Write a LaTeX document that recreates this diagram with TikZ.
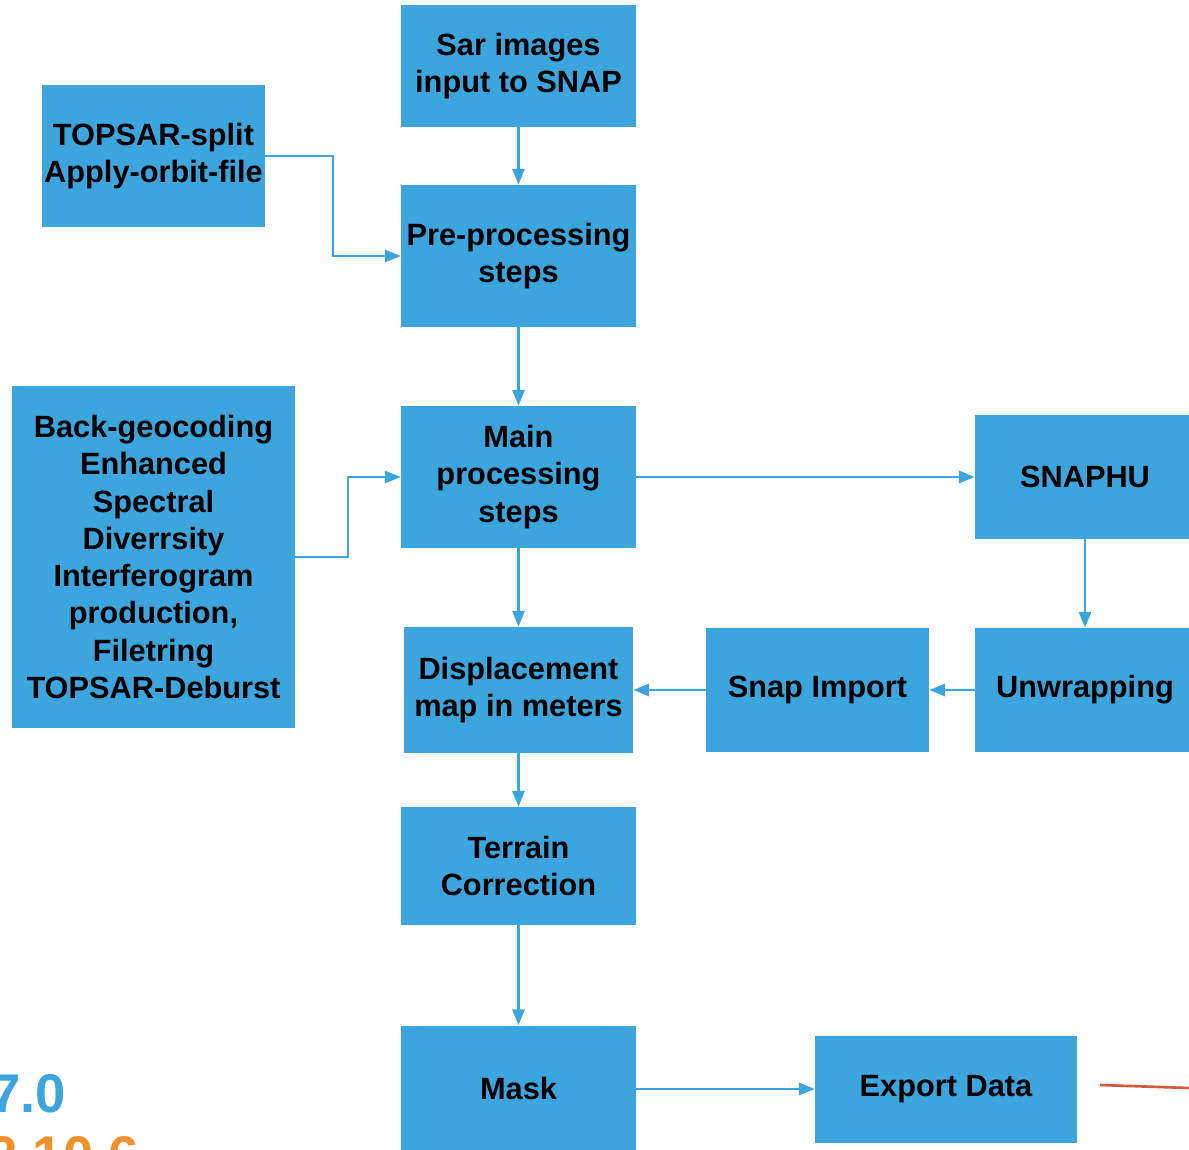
\documentclass[tikz,border=0pt]{standalone}
\usepackage{fontspec}
\setmainfont{Liberation Sans}
\usetikzlibrary{arrows.meta}
\definecolor{boxblue}{RGB}{61,165,222}
\definecolor{slideorange}{RGB}{240,146,43}
\definecolor{slidered}{RGB}{210,90,60}
\tikzset{
	stage/.style={fill=boxblue,align=center,inner sep=0pt,font=\bfseries\fontsize{17.5}{21.2}\selectfont},
	flow/.style={boxblue,line width=1.2pt,-{Triangle[length=9pt,width=7pt]}},
}
\begin{document}
\begin{tikzpicture}[x=0.02cm,y=-0.02cm]
					\useasboundingbox (0,0) rectangle (1189,1149);
					\clip (0,0) rectangle (1189,1149);
					\node[stage,minimum width=4.7cm,minimum height=2.44cm] (sar) at (518.5,66) {Sar images\\input to SNAP};
					\node[stage,minimum width=4.46cm,minimum height=2.84cm] (split) at (153.5,156) {TOPSAR-split\\Apply-orbit-file};
					\node[stage,minimum width=4.7cm,minimum height=2.84cm] (pre) at (518.5,256) {Pre-processing\\steps};
					\node[stage,minimum width=5.66cm,minimum height=6.84cm] (geo) at (153.5,557) {Back-geocoding\\Enhanced\\Spectral\\Diverrsity\\Interferogram\\production,\\Filetring\\TOPSAR-Deburst};
					\node[stage,minimum width=4.7cm,minimum height=2.84cm] (main) at (518.5,477) {Main\\processing\\steps};
					\node[stage,minimum width=4.4cm,minimum height=2.48cm] (snaphu) at (1085,477) {SNAPHU};
					\node[stage,minimum width=4.58cm,minimum height=2.52cm] (disp) at (518.5,690) {Displacement\\map in meters};
					\node[stage,minimum width=4.46cm,minimum height=2.48cm] (import) at (817.5,690) {Snap Import};
					\node[stage,minimum width=4.4cm,minimum height=2.48cm] (unwrap) at (1085,690) {Unwrapping};
					\node[stage,minimum width=4.7cm,minimum height=2.36cm] (terrain) at (518.5,866) {Terrain\\Correction};
					\node[stage,minimum width=4.7cm,minimum height=2.5cm] (mask) at (518.5,1088) {Mask};
					\node[stage,minimum width=5.24cm,minimum height=2.14cm] (export) at (946,1089.5) {Export Data};
					% connectors
					\draw[flow] (sar) -- (pre);
					\draw[flow] (split.east |- 0,156) -| (333,256) -- (pre.west |- 0,256);
					\draw[flow] (pre) -- (main);
					\draw[flow] (geo.east |- 0,557) -| (348,477) -- (main.west |- 0,477);
					\draw[flow] (main.east |- 0,477) -- (snaphu.west |- 0,477);
					\draw[flow] (snaphu) -- (unwrap);
					\draw[flow] (unwrap.west |- 0,690) -- (import.east |- 0,690);
					\draw[flow] (import.west |- 0,690) -- (disp.east |- 0,690);
					\draw[flow] (main) -- (disp);
					\draw[flow] (disp) -- (terrain);
					\draw[flow] (terrain) -- (mask);
					\draw[flow] (mask.east |- 0,1089) -- (export.west |- 0,1089);
					% slide leftovers
					\coordinate (redstart) at (1100,1085);
					\draw[slidered,line width=1.5pt] (redstart) -- (1189,1088);
					\node[boxblue,anchor=base west,inner sep=0pt,font=\bfseries\fontsize{31}{32}\selectfont] (ver) at (-10,1112) {7.0};
					\node[slideorange,anchor=base west,inner sep=0pt,font=\bfseries\fontsize{31}{32}\selectfont] (date) at (-13,1174) {2.10.6};
				\end{tikzpicture}
\end{document}
